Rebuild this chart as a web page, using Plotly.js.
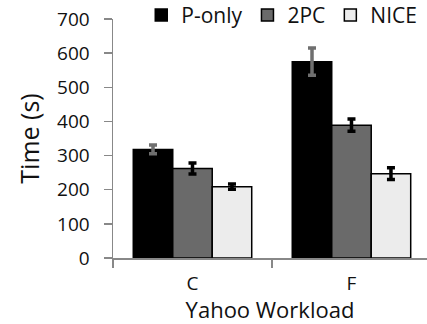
<!DOCTYPE html>
<html>
<head>
<meta charset="utf-8">
<script src="https://cdn.plot.ly/plotly-3.0.1.min.js"></script>
<style>
  html, body { margin: 0; padding: 0; background: #fff; }
  #chart { width: 427px; height: 324px; }
</style>
</head>
<body>
<div id="chart"></div>
<script>
// Workloads on the x axis
const workloads = ["C", "F"];

// Mean completion time (s) per protocol
const pOnly = [318, 575];
const twoPC = [262, 389];
const nice = [209, 247];

// Error bar half-heights (s)
const pOnlyErr = [13, 40];
const twoPCErr = [16, 18];
const niceErr = [8, 17];

const seriesNames = ["P-only", "2PC", "NICE"];
const fillColors = ["#000000", "#6a6a6a", "#ececec"];
const errColors = ["#6f6f6f", "#000000", "#000000"];

const values = [pOnly, twoPC, nice];
const errors = [pOnlyErr, twoPCErr, niceErr];

const font = "Open Sans, Noto Sans, sans-serif";
const ink = "#111111";
const axisGray = "#888888";

const traces = values.map((v, i) => ({
  type: "bar",
  name: seriesNames[i],
  x: workloads,
  y: v,
  marker: { color: fillColors[i], line: { color: "#000000", width: 1.5 } },
  error_y: {
    type: "data",
    array: errors[i],
    visible: true,
    color: errColors[i],
    thickness: 3.5,
    width: 4
  }
}));

const layout = {
  width: 427,
  height: 324,
  margin: { l: 113, r: 0, t: 19, b: 66, autoexpand: false },
  paper_bgcolor: "#ffffff",
  plot_bgcolor: "#ffffff",
  barmode: "group",
  bargap: 0.255,
  bargroupgap: 0,
  showlegend: true,
  legend: {
    orientation: "h",
    x: 0.09,
    xanchor: "left",
    y: 1.015,
    yanchor: "middle",
    font: { family: font, size: 21, color: ink },
    bgcolor: "rgba(0,0,0,0)",
    itemwidth: 30,
    tracegroupgap: 0
  },
  xaxis: {
    type: "category",
    range: [-0.5, 1.475],
    showline: true,
    linecolor: axisGray,
    linewidth: 1.5,
    ticks: "outside",
    tickson: "boundaries",
    ticklen: 8,
    tickcolor: axisGray,
    tickwidth: 1.5,
    ticklabelstandoff: 8,
    showgrid: false,
    zeroline: false,
    automargin: false,
    tickfont: { family: font, size: 19, color: ink },
    title: { text: "Yahoo Workload", font: { family: font, size: 22, color: ink }, standoff: 5 }
  },
  yaxis: {
    range: [0, 700],
    dtick: 100,
    showline: true,
    linecolor: axisGray,
    linewidth: 1.5,
    ticks: "outside",
    ticklen: 8,
    tickcolor: axisGray,
    tickwidth: 1.5,
    ticklabelstandoff: 10,
    showgrid: false,
    zeroline: false,
    automargin: false,
    tickfont: { family: font, size: 19, color: ink },
    title: { text: "Time (s)", font: { family: font, size: 25, color: ink }, standoff: 10 }
  }
};

Plotly.newPlot("chart", traces, layout, { displayModeBar: false, staticPlot: true });
</script>
</body>
</html>
